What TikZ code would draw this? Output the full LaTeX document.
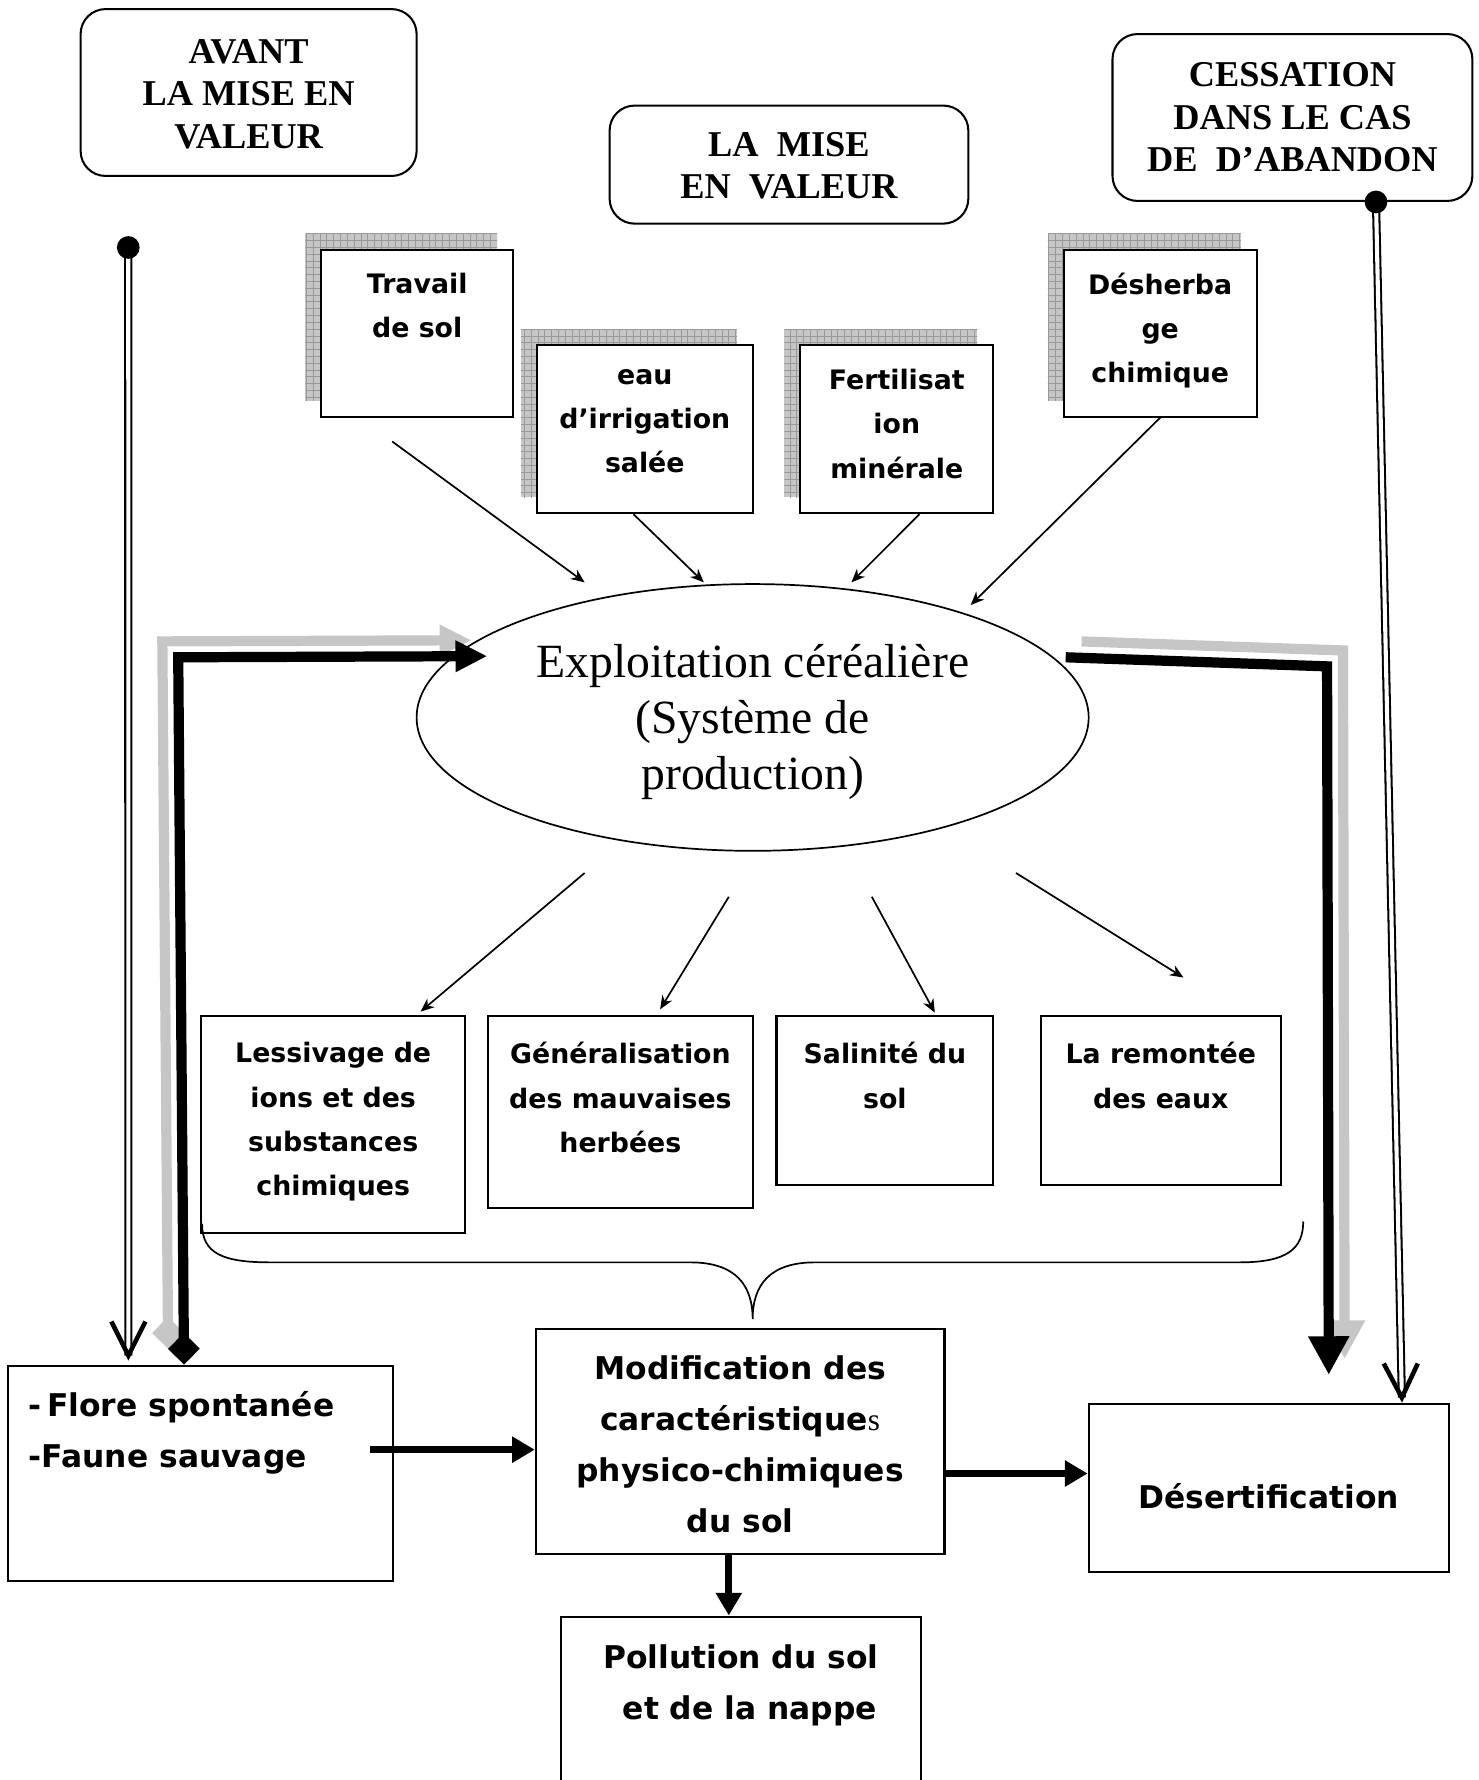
\documentclass[tikz,border=0pt]{standalone}
\usepackage{fontspec}
\setmainfont{Liberation Serif}
\newfontfamily\comicfont{DejaVu Sans}
\usetikzlibrary{
  arrows.meta,
  calc,
  fit,
  patterns,
  positioning,
  shapes.geometric,
}

\begin{document}
\begin{tikzpicture}[x=.5pt,y=-.5pt,
  headbox/.style={draw,line width=.9pt,rounded corners=11pt,inner sep=0pt},
  box/.style={draw,line width=.9pt,fill=white,inner sep=0pt},
  hatch/.style={fill=gray!45,postaction={pattern=grid,pattern color=gray!80}},
  htxt/.style={inner sep=0pt,align=center,execute at begin node=\strut,
    font=\fontsize{16}{18.7}\selectfont\bfseries},
  txt/.style={inner sep=0pt,align=center,execute at begin node=\strut,
    font=\fontsize{11.8}{19.5}\selectfont\comicfont\bfseries},
  bigtxt/.style={txt,font=\fontsize{13.8}{22.5}\selectfont\comicfont\bfseries},
  lnk/.style={line width=.75pt,-{Stealth[length=6pt,width=5pt]}},
  fat/.style={line width=3pt,-{Triangle[length=10pt,width=11pt]}},
  thickarr/.style={line width=4.5pt,line join=miter},
  gryarr/.style={thickarr,draw=gray!45},
  dbl/.style={double,double distance=1.8pt,line width=.9pt},
  vee/.style={line width=2pt,line join=miter}]
  \useasboundingbox (0,0) rectangle (1302,1568);
  \clip (0,0) rectangle (1302,1568);
  %% headings
  \node[headbox,fit={(71,8)(367,155)}] (avant) {};
  \node[htxt,below=13.6pt of avant.north] (avanttxt) {AVANT\\LA MISE EN\\VALEUR};
  \node[headbox,fit={(537,93)(853,197)}] (lamise) {};
  \node[htxt,below=11.9pt of lamise.north] (lamisetxt) {LA\ \ MISE\\EN\ \ VALEUR};
  \node[headbox,fit={(980,30)(1297,177)}] (cessation) {};
  \node[htxt,below=12.9pt of cessation.north] (cessationtxt)
    {CESSATION\\DANS LE CAS\\DE\ \ D'ABANDON};
  %% practices
  \path[hatch] (269,206) rectangle (438,353);
  \node[box,fit={(283,220)(452,367)}] (travail) {};
  \node[txt,below=10.4pt of travail.north] (travailtxt) {Travail\\de sol};
  \path[hatch] (459,290) rectangle (649,438);
  \node[box,fit={(473,304)(663,452)}] (eau) {};
  \node[txt,below=10.9pt of eau.north] (eautxt) {eau\\d’irrigation\\salée};
  \path[hatch] (691,290) rectangle (861,438);
  \node[box,fit={(705,304)(875,452)}] (fert) {};
  \node[txt,below=10.9pt of fert.north] (ferttxt) {Fertilisat\\ion\\minérale};
  \path[hatch] (923,206) rectangle (1093,353);
  \node[box,fit={(937,220)(1107,367)}] (desh) {};
  \node[txt,below=10.4pt of desh.north] (deshtxt) {Désherba\\ge\\chimique};
  %%
  \node[ellipse,draw,line width=.75pt,minimum width=296pt,minimum height=117.5pt,
    inner sep=0pt,align=center,font=\fontsize{21}{24.5}\selectfont]
    (expl) at (663,632) {};
  \node[align=center,inner sep=0pt,font=\fontsize{21}{24.5}\selectfont]
    (expltxt) at ([yshift=-2pt]expl.center)
    {Exploitation céréalière\\(Système de\\production)};
  %% effects
  \node[box,fit={(177,895)(410,1086)}] (lessivage) {};
  \node[txt,below=11.9pt of lessivage.north] (lessivagetxt)
    {Lessivage de\\ions et des\\substances\\chimiques};
  \node[box,fit={(430,895)(663,1064)}] (mauvaises) {};
  \node[txt,below=11.9pt of mauvaises.north] (mauvaisestxt)
    {Généralisation\\des mauvaises\\herbées};
  \node[box,fit={(684,895)(875,1044)}] (salinite) {};
  \node[txt,below=11.9pt of salinite.north] (salinitetxt) {Salinité du\\sol};
  \node[box,fit={(917,895)(1128,1044)}] (remontee) {};
  \node[txt,below=11.9pt of remontee.north] (remonteetxt) {La remontée\\des eaux};
  \draw[line width=.75pt] (178,1078) .. controls (178,1104) and (196,1112) .. (238,1112)
    -- (608,1112) .. controls (648,1112) and (663,1132) .. (663,1162)
    .. controls (663,1132) and (678,1112) .. (718,1112)
    -- (1092,1112) .. controls (1134,1112) and (1148,1100) .. (1148,1076);
  %% bottom row
  \node[box,fit={(7,1203)(346,1393)}] (flore) {};
  \node[bigtxt,align=left,anchor=north west] (floretxt)
    at ($(flore.north west)+(19,23.5)$) {-\,Flore spontanée\\-Faune sauvage};
  \node[box,fit={(472,1171)(832,1369)}] (modif) {};
  \node[bigtxt,below=11.75pt of modif.north] (modiftxt)
    {Modification des\\caractéristique{\rmfamily\mdseries s}\\physico-chimiques\\du sol};
  \node[box,fit={(959,1237)(1276,1385)}] (desert) {};
  \node[bigtxt] (deserttxt) at ([yshift=-4.5pt]desert.center) {Désertification};
  \node[box,fit={(494,1424)(811,1620)}] (pollution) {};
  \node[bigtxt,below=12.5pt of pollution.north] (pollutiontxt)
    {Pollution du sol\\\hspace*{8pt}et de la nappe};
  %% thin arrows
  \draw[lnk] ($(travail.south)+(-22,21)$) -- ($(expl.center)+(-148,-119)$);
  \draw[lnk] ($(eau.south)+(-10,0)$) -- ($(expl.center)+(-43,-119)$);
  \draw[lnk] ($(fert.south)+(20,0)$) -- ($(expl.center)+(87,-119)$);
  \draw[lnk] (desh.south) -- ($(expl.center)+(192,-99)$);
  \draw[lnk] ($(expl.center)+(-148,137)$) -- ($(lessivage.north)+(77,-3)$);
  \draw[lnk] ($(expl.center)+(-21,158)$) -- ($(mauvaises.north)+(35,-5)$);
  \draw[lnk] ($(expl.center)+(105,158)$) -- ($(salinite.north)+(44,-2)$);
  \draw[lnk] ($(expl.center)+(232,137)$) -- ($(remontee.north)+(20,-33)$);
  %% double lines
  \coordinate (avantdot) at (113,218);
  \coordinate (avanttip) at ($(flore.north west)+(107,-8)$);
  \draw[dbl] (avantdot) -- (avanttip);
  \draw[vee] ($(avanttip)+(-15,-30)$) -- (avanttip) -- ($(avanttip)+(15,-30)$);
  \fill (avantdot) circle[radius=10];
  \coordinate (cessdot) at ($(cessation.south west)+(233,0)$);
  \coordinate (cesstip) at ($(desert.north east)+(-42,-5)$);
  \draw[dbl] (cessdot) -- (cesstip);
  \draw[vee] ($(cesstip)+(-16,-30)$) -- (cesstip) -- ($(cesstip)+(14,-30)$);
  \fill (cessdot) circle[radius=10];
  %% thick paths
  \coordinate (lstart) at ($(flore.north west)+(156,0)$);
  \coordinate (lcorner) at (157,579);
  \coordinate (lend) at ($(expl.west)+(63,-54)$);
  \draw[gryarr,{Diamond[length=14pt,width=14pt]}-{Triangle[length=14pt,width=13pt]}]
    ($(lstart)+(-14,-14)$) -- ($(lcorner)+(-14,-14)$) -- ($(lend)+(-14,-14)$);
  \draw[thickarr,{Diamond[length=14pt,width=14pt]}-{Triangle[length=14pt,width=13pt]}]
    (lstart) -- (lcorner) -- (lend);
  \coordinate (rstart) at ($(expl.east)+(-21,-53)$);
  \coordinate (rcorner) at (1169,587);
  \coordinate (rend) at ($(desert.north)+(53,-25)$);
  \draw[gryarr,-{Triangle[length=17pt,width=17pt]}]
    ($(rstart)+(14,-14)$) -- ($(rcorner)+(14,-14)$) -- ($(rend)+(14,-14)$);
  \draw[thickarr,-{Triangle[length=17pt,width=17pt]}] (rstart) -- (rcorner) -- (rend);
  %% fat arrows
  \coordinate (f1) at ($(flore.east)+(-21,-21)$);
  \draw[fat] (f1) -- (f1 -| modif.west);
  \coordinate (m1) at ($(modif.east)+(0,28)$);
  \draw[fat] (m1) -- (m1 -| desert.west);
  \coordinate (m2) at ($(modif.south)+(-10,0)$);
  \draw[fat] (m2) -- (m2 |- pollution.north);
\end{tikzpicture}
\end{document}
